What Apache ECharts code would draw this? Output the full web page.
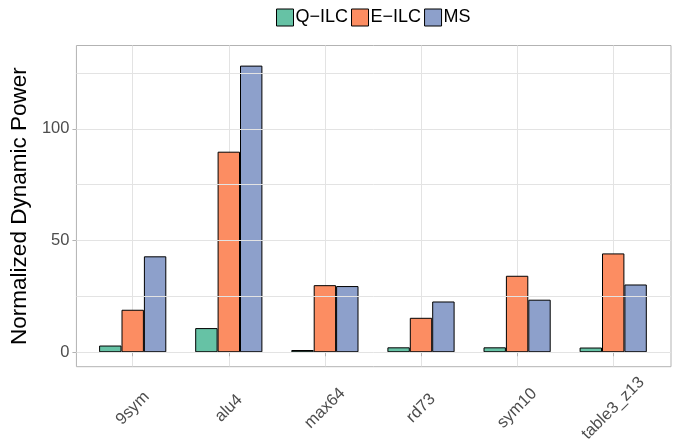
<!DOCTYPE html>
<html><head><meta charset="utf-8">
<script src="https://cdn.jsdelivr.net/npm/echarts@6/dist/echarts.min.js"></script>
<style>html,body{margin:0;padding:0;background:#fff}#c{width:681px;height:445px}</style>
</head><body><div id="c"></div>
<script>
const categories = ['9sym', 'alu4', 'max64', 'rd73', 'sym10', 'table3_z13'];
const qIlc = [3.0, 10.8, 1.0, 2.2, 2.2, 2.1];
const eIlc = [19.0, 89.7, 30.0, 15.4, 34.2, 44.2];
const ms = [42.9, 128.2, 29.6, 22.7, 23.5, 30.3];
const yTicks = [0, 50, 100];
const yGrid = [0, 25, 50, 75, 100, 125];
const seriesNames = ['Q\u2212ILC', 'E\u2212ILC', 'MS'];
const colors = ['#66C2A5', '#FC8D62', '#8DA0CB'];

const yMin = -6.3, yMax = 137.2;
const font = 'Liberation Sans, Arial, sans-serif';
const chart = echarts.init(document.getElementById('c'));
const barStyle = c => ({ color: c, borderColor: '#000', borderWidth: 1 });
chart.setOption({
  animation: false,
  textStyle: { fontFamily: font },
  legend: {
    top: 8.5, left: 276, padding: 0, itemWidth: 17, itemHeight: 17, itemGap: 3,
    icon: 'rect',
    textStyle: { fontSize: 18, color: '#000', fontFamily: font, padding: [0, 0, 0, -3] },
    data: seriesNames.map((n, i) => ({ name: n, itemStyle: { color: colors[i], borderColor: '#000', borderWidth: 1 } }))
  },
  grid: [
    { left: 75, right: 10, top: 45.5, bottom: 78.3, show: true, borderColor: '#B3B3B3', borderWidth: 1, backgroundColor: 'transparent' },
    { left: 132.7, right: 67.8, top: 45.5, bottom: 78.3 }
  ],
  xAxis: [
    { gridIndex: 0, type: 'value', min: 0, max: 1, show: false },
    { gridIndex: 1, type: 'category', data: categories, boundaryGap: false,
      axisLine: { show: false },
      axisTick: { show: true, length: 4, lineStyle: { color: '#B3B3B3' } },
      splitLine: { show: true, lineStyle: { color: '#E3E3E3', width: 1 } },
      axisLabel: { rotate: 45, fontSize: 16.5, color: '#4D4D4D', margin: 42, align: 'center', verticalAlign: 'middle', fontFamily: font, interval: 0 } }
  ],
  yAxis: [
    { gridIndex: 0, type: 'value', min: yMin, max: yMax,
      name: 'Normalized Dynamic Power', nameLocation: 'middle', nameGap: 41,
      nameTextStyle: { fontSize: 22.5, color: '#000', fontFamily: font },
      axisLine: { show: false },
      splitLine: { show: false },
      axisTick: { show: true, length: 4, lineStyle: { color: '#B3B3B3' }, customValues: yTicks },
      axisLabel: { fontSize: 16.5, color: '#4D4D4D', margin: 7, fontFamily: font, customValues: yTicks } },
    { gridIndex: 1, type: 'value', min: yMin, max: yMax, show: false, splitLine: { show: false } }
  ],
  series: [
    { type: 'line', xAxisIndex: 0, yAxisIndex: 0, data: [], z: 0, silent: true,
      markLine: { symbol: 'none', silent: true, label: { show: false },
        lineStyle: { color: '#E3E3E3', width: 1, type: 'solid' },
        data: yGrid.map(v => ({ yAxis: v })) } },
    { name: seriesNames[0], type: 'bar', xAxisIndex: 1, yAxisIndex: 1, data: qIlc, barWidth: 22.4, barGap: '0%', itemStyle: barStyle(colors[0]), z: 3 },
    { name: seriesNames[1], type: 'bar', xAxisIndex: 1, yAxisIndex: 1, data: eIlc, barWidth: 22.4, barGap: '0%', itemStyle: barStyle(colors[1]), z: 3 },
    { name: seriesNames[2], type: 'bar', xAxisIndex: 1, yAxisIndex: 1, data: ms, barWidth: 22.4, barGap: '0%', itemStyle: barStyle(colors[2]), z: 3 }
  ]
});
</script></body></html>
